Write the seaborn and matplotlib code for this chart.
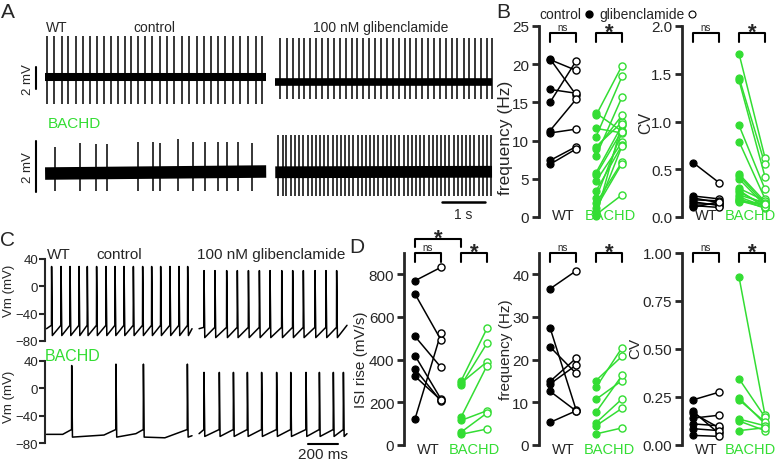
import pandas as pd
import matplotlib
matplotlib.use("agg")
import matplotlib.pyplot as plt
import seaborn as sns
from matplotlib.lines import Line2D

W, H = 778, 464
GREEN = "#33dd33"

# ---------------- panel A: extracellular traces (time in s, amplitude in mV) ----------------
a_wt_ctrl_spikes = [0.05, 0.21, 0.39, 0.54, 0.71, 0.88, 1.03, 1.20, 1.36, 1.52, 1.68, 1.84, 2.00, 2.16,
                    2.32, 2.48, 2.65, 2.83, 2.98, 3.18, 3.34, 3.51, 3.68, 3.84, 4.01, 4.17, 4.34, 4.52,
                    4.70, 4.88, 5.03]
a_wt_glib_spikes = [5.45, 5.60, 5.74, 5.87, 6.00, 6.14, 6.28, 6.42, 6.55, 6.69, 6.83, 6.96, 7.10, 7.23,
                    7.37, 7.51, 7.64, 7.78, 7.92, 8.05, 8.19, 8.33, 8.46, 8.60, 8.73, 8.87, 9.01, 9.14,
                    9.28, 9.42, 9.55, 9.69, 9.82, 9.96, 10.10, 10.23, 10.35]
a_bachd_ctrl_spikes = [0.23, 0.81, 1.19, 1.44, 2.14, 2.49, 2.65, 3.07, 3.42, 3.70, 4.00, 4.21, 4.47, 4.79]
a_bachd_ctrl_peaks = [1.03, 1.18, 1.13, 1.13, 1.23, 1.20, 1.16, 1.33, 1.23, 1.20, 1.23, 1.23, 1.20, 1.18]
a_bachd_glib_spikes = [5.40, 5.50, 5.59, 5.69, 5.79, 5.88, 5.98, 6.08, 6.17, 6.27, 6.37, 6.46, 6.56, 6.66,
                       6.75, 6.85, 6.95, 7.04, 7.14, 7.24, 7.33, 7.43, 7.53, 7.62, 7.72, 7.82, 7.91, 8.01,
                       8.11, 8.20, 8.30, 8.40, 8.49, 8.59, 8.69, 8.78, 8.88, 8.98, 9.07, 9.17, 9.27, 9.36,
                       9.46, 9.56, 9.65, 9.75, 9.85, 9.94, 10.04, 10.14, 10.23, 10.33]

# ---------------- panel C: whole-cell traces (time in ms, Vm in mV) ----------------
c_wt_ctrl_spikes = [44, 107, 167, 227, 282, 344, 407, 467, 527, 589, 651, 711, 771, 833, 893, 951]
c_wt_glib_spikes = [1060, 1133, 1211, 1282, 1356, 1429, 1500, 1578, 1651, 1722, 1800, 1873, 1944]
c_bachd_ctrl_spikes = [178, 473, 656, 949]
c_bachd_ctrl_peaks = [33, 35, 35, 35]
c_bachd_ctrl_base = [-67, -68, -66, -72]
c_bachd_ctrl_ramp = [60, 80, 50, 150]
c_bachd_glib_spikes = [1060, 1162, 1256, 1349, 1444, 1544, 1638, 1740, 1829, 1922, 1989]

# ---------------- panel B: paired values ----------------
b_freq_wt_ctrl = [20.7, 20.6, 16.7, 15.0, 11.3, 11.0, 7.4, 6.9]
b_freq_wt_glib = [16.0, 19.2, 16.2, 20.4, 15.4, 11.5, 9.2, 8.9]
b_freq_bd_ctrl = [13.6, 13.3, 11.6, 10.5, 9.2, 8.9, 8.0, 5.8, 5.5, 4.7, 3.4, 2.5, 1.8, 1.2, 0.7, 0.3, 0.1]
b_freq_bd_glib = [11.2, 19.8, 11.0, 18.4, 12.4, 13.3, 15.7, 12.0, 11.3, 9.8, 9.4, 11.1, 7.2, 7.0, 9.3, 2.9, 12.2]
b_cv_wt_ctrl = [0.57, 0.22, 0.20, 0.18, 0.16, 0.14, 0.12, 0.10]
b_cv_wt_glib = [0.36, 0.19, 0.15, 0.17, 0.12, 0.14, 0.10, 0.16]
b_cv_bd_ctrl = [1.71, 1.46, 1.43, 0.96, 0.79, 0.45, 0.43, 0.40, 0.30, 0.28, 0.26, 0.23, 0.21, 0.19, 0.18, 0.17, 0.16]
b_cv_bd_glib = [0.62, 0.55, 0.42, 0.29, 0.19, 0.16, 0.14, 0.12, 0.17, 0.10, 0.13, 0.15, 0.11, 0.09, 0.12, 0.10, 0.14]

# ---------------- panel D: paired values ----------------
d_isi_wt_ctrl = [770, 708, 509, 419, 356, 322, 122]
d_isi_wt_glib = [833, 492, 364, 215, 205, 210, 525]
d_isi_bd_ctrl = [300, 290, 280, 130, 115, 60, 50]
d_isi_bd_glib = [547, 390, 477, 372, 161, 150, 75]
d_freq_wt_ctrl = [36.6, 27.5, 23.0, 14.9, 14.3, 12.6, 5.3]
d_freq_wt_glib = [40.8, 8.3, 16.8, 20.3, 18.7, 8.0, 8.0]
d_freq_bd_ctrl = [15.1, 13.5, 10.7, 7.7, 5.2, 4.5, 2.6]
d_freq_bd_glib = [20.8, 22.8, 15.1, 16.3, 10.8, 8.6, 4.0]
d_cv_wt_ctrl = [0.235, 0.175, 0.165, 0.14, 0.11, 0.085, 0.05]
d_cv_wt_glib = [0.275, 0.06, 0.09, 0.155, 0.10, 0.075, 0.045]
d_cv_bd_ctrl = [0.875, 0.345, 0.245, 0.235, 0.135, 0.125, 0.075]
d_cv_bd_glib = [0.155, 0.145, 0.11, 0.12, 0.10, 0.075, 0.09]

sns.set_style("ticks")
plt.rcParams["font.family"] = ["Liberation Sans", "DejaVu Sans"]
plt.rcParams["axes.linewidth"] = 1.5

fig = plt.figure(figsize=(W / 100, H / 100), dpi=100)


def px_axes(x0, y0, x1, y1):
    return fig.add_axes([x0 / W, 1 - y1 / H, (x1 - x0) / W, (y1 - y0) / H])


def ftext(x, y, s, **kw):
    fig.text(x / W, 1 - y / H, s, ha="center", va="center", **kw)


# ================= panel A =================
def a_trace(ax, t0, t1, b0, b1, spikes, tops, bottom, lw_base):
    ax.plot([t0, t1], [b0, b1], color="k", lw=lw_base, solid_capstyle="butt")
    ax.vlines(spikes, bottom, tops, color="k", lw=1.1)


ax_a1 = px_axes(20, 30, 497, 112)
ax_a1.set_xlim(-0.581, 10.465)
ax_a1.set_ylim(-3.09, 4.364)
ax_a1.axis("off")
a_trace(ax_a1, 0.0, 5.12, 0.0, 0.0, a_wt_ctrl_spikes, 3.73, -2.45, 5.8)
a_trace(ax_a1, 5.33, 10.35, -0.45, -0.45, a_wt_glib_spikes, 3.55, -2.0, 5.5)
ax_a1.plot([-0.21, -0.21], [-1.09, 0.91], color="k", lw=1.5)
ax_a1.text(-0.40, -0.18, "2 mV", rotation=90, ha="center", va="center", fontsize=9.5)

ax_a2 = px_axes(20, 125, 497, 220)
ax_a2.set_xlim(-0.581, 10.465)
ax_a2.set_ylim(-1.80, 1.92)
ax_a2.axis("off")
a_trace(ax_a2, 0.0, 5.12, -0.02, 0.06, a_bachd_ctrl_spikes, a_bachd_ctrl_peaks, -0.7, 9.0)
a_trace(ax_a2, 5.33, 10.35, 0.03, 0.05, a_bachd_glib_spikes, 1.5, -0.9, 8.5)
ax_a2.plot([-0.21, -0.21], [-0.75, 1.25], color="k", lw=1.5)
ax_a2.text(-0.40, 0.27, "2 mV", rotation=90, ha="center", va="center", fontsize=9.5)
ax_a2.plot([9.19, 10.19], [-1.14, -1.14], color="k", lw=1.8, clip_on=False)
ax_a2.text(9.69, -1.62, "1 s", ha="center", va="center", fontsize=10, clip_on=False)

ftext(8, 13, "A", fontsize=15)
ftext(57, 28, "WT", fontsize=10)
ftext(154, 28, "control", fontsize=10)
ftext(381, 28, "100 nM glibenclamide", fontsize=10)
ftext(74, 124, "BACHD", fontsize=11, color=GREEN)


# ================= panel C =================
def c_trace(t0, t1, v0, v1, spikes, peaks, thr, ahp, base=None, ramp=None):
    xs, ys = [t0], [v0]
    for i, t in enumerate(spikes):
        p = peaks[i] if isinstance(peaks, list) else peaks
        if base is not None:
            xs.append(t - ramp[i])
            ys.append(base[i])
        xs += [t - 1, t, t + 5]
        ys += [thr, p, ahp]
    xs.append(t1)
    ys.append(v1)
    return xs, ys


def c_axes(y0, y1):
    ax = px_axes(45, y0, 350, y1)
    ax.set_xlim(0, 2033)
    ax.set_ylim(-80, 40)
    ax.set_yticks([40, 0, -40, -80])
    for s in ("top", "right", "bottom"):
        ax.spines[s].set_visible(False)
    ax.spines["left"].set_linewidth(1.5)
    ax.tick_params(axis="y", length=4, width=1.5, labelsize=9.5, pad=1)
    ax.set_xticks([])
    ax.set_ylabel("Vm (mV)", fontsize=9.5)
    return ax


ax_c1 = c_axes(260, 342)
for xs, ys in (c_trace(10, 980, -62, -62, c_wt_ctrl_spikes, 29, -57, -72),
               c_trace(1027, 2013, -62, -57, c_wt_glib_spikes, 23, -60, -75)):
    sns.lineplot(x=xs, y=ys, sort=False, estimator=None, color="k", lw=1.1, ax=ax_c1)
ax_c1.yaxis.set_label_coords(-0.098, 0.62)

ax_c2 = c_axes(361.7, 444.3)
for xs, ys in (c_trace(10, 980, -67, -69, c_bachd_ctrl_spikes, c_bachd_ctrl_peaks, -60, -71,
                       c_bachd_ctrl_base, c_bachd_ctrl_ramp),
               c_trace(1027, 2013, -66, -66, c_bachd_glib_spikes, 23, -60, -70)):
    sns.lineplot(x=xs, y=ys, sort=False, estimator=None, color="k", lw=1.1, ax=ax_c2)
ax_c2.yaxis.set_label_coords(-0.098, 0.58)
ax_c2.plot([1753, 1953], [-81, -81], color="k", lw=1.5, clip_on=False)
ax_c2.text(1853, -95, "200 ms", ha="center", va="center", fontsize=11, clip_on=False)

ftext(8, 241, "C", fontsize=15)
ftext(59, 255, "WT", fontsize=11)
ftext(119, 255, "control", fontsize=11)
ftext(271, 255, "100 nM glibenclamide", fontsize=11)
ftext(73, 357, "BACHD", fontsize=11.5, color=GREEN)


# ================= panels B and D =================
GX = {"WT": (0.0, 1.0), "BACHD": (1.77, 2.77)}


def bracket(ax, x0, x1, ytop, ybot, label):
    tr = ax.get_xaxis_transform()
    ax.plot([x0, x0, x1, x1], [ybot, ytop, ytop, ybot], color="k", lw=1.5,
            transform=tr, clip_on=False)
    if label == "*":
        ax.annotate("*", xy=((x0 + x1) / 2, ytop), xycoords=tr, xytext=(0, -3.5),
                    textcoords="offset points", ha="center", va="baseline",
                    fontsize=16, fontweight="bold")
    else:
        ax.annotate("ns", xy=((x0 + x1) / 2, ytop), xycoords=tr, xytext=(0, 1),
                    textcoords="offset points", ha="center", va="bottom", fontsize=7)


def paired(x0, y0, x1, y1, wt_c, wt_g, bd_c, bd_g, ylim, yticks, fmt, ylabel, lab_xy, lab_size,
           br_top, br_bot, lab_y, bd_x=2.27):
    ax = px_axes(x0, y0, x1, y1)
    rows = []
    for grp, c, g in (("WT", wt_c, wt_g), ("BACHD", bd_c, bd_g)):
        xa, xb = GX[grp]
        for i, (a, b) in enumerate(zip(c, g)):
            rows.append({"group": grp, "pair": f"{grp}{i}", "cond": "control", "x": xa, "v": a})
            rows.append({"group": grp, "pair": f"{grp}{i}", "cond": "glib", "x": xb, "v": b})
    df = pd.DataFrame(rows)
    for grp, col in (("WT", "black"), ("BACHD", GREEN)):
        d = df[df["group"] == grp]
        sns.lineplot(data=d, x="x", y="v", units="pair", estimator=None, color=col,
                     lw=1.1, ax=ax, legend=False)
        sns.scatterplot(data=d[d["cond"] == "control"], x="x", y="v", color=col, edgecolor=col,
                        linewidth=0.8, s=26, ax=ax, zorder=3, clip_on=False, legend=False)
        sns.scatterplot(data=d[d["cond"] == "glib"], x="x", y="v", color="white", edgecolor=col,
                        linewidth=1.0, s=26, ax=ax, zorder=3, clip_on=False, legend=False)
    span = 26.0
    ax.set_xlim(-11 / span, (x1 - x0 - 11) / span)
    ax.set_ylim(*ylim)
    ax.set_yticks(yticks)
    ax.set_yticklabels([fmt.format(t) for t in yticks])
    for s in ("top", "right", "bottom"):
        ax.spines[s].set_visible(False)
    ax.spines["left"].set_linewidth(2.0)
    ax.tick_params(axis="y", length=5, width=2.0, labelsize=11, pad=2)
    ax.set_xticks([])
    ax.set_xlabel("")
    ax.set_ylabel(ylabel, fontsize=lab_size)
    ax.yaxis.set_label_coords(*lab_xy)
    tr = ax.get_xaxis_transform()
    ax.text(0.5, lab_y, "WT", transform=tr, ha="center", va="center", fontsize=10.5)
    ax.text(bd_x, lab_y, "BACHD", transform=tr, ha="center", va="center", fontsize=10.5, color=GREEN)
    bracket(ax, 0.0, 1.0, br_top, br_bot, "ns")
    bracket(ax, 1.77, 2.77, br_top, br_bot, "*")
    return ax


paired(539, 27, 640, 218, b_freq_wt_ctrl, b_freq_wt_glib, b_freq_bd_ctrl, b_freq_bd_glib,
       (0, 25), [0, 5, 10, 15, 20, 25], "{:g}", "frequency (Hz)", (-0.26, 0.42), 12.5,
       0.962, 0.918, 0.01, 2.32)
paired(682, 27, 778, 218, b_cv_wt_ctrl, b_cv_wt_glib, b_cv_bd_ctrl, b_cv_bd_glib,
       (0, 2.0), [0, 0.5, 1.0, 1.5, 2.0], "{:.1f}", "CV", (-0.30, 0.50), 11.5,
       0.962, 0.918, 0.01, 2.2)
ax_isi = paired(404, 254, 500, 446, d_isi_wt_ctrl, d_isi_wt_glib, d_isi_bd_ctrl, d_isi_bd_glib,
                (0, 900), [0, 200, 400, 600, 800], "{:g}", "ISI rise (mV/s)", (-0.375, 0.448), 11,
                1.0, 0.953, -0.02)
paired(539, 254, 640, 446, d_freq_wt_ctrl, d_freq_wt_glib, d_freq_bd_ctrl, d_freq_bd_glib,
       (0, 45), [0, 10, 20, 30, 40], "{:g}", "frequency (Hz)", (-0.26, 0.50), 11,
       1.0, 0.953, -0.02)
paired(682, 254, 778, 446, d_cv_wt_ctrl, d_cv_wt_glib, d_cv_bd_ctrl, d_cv_bd_glib,
       (0, 1.0), [0, 0.25, 0.5, 0.75, 1.0], "{:.2f}", "CV", (-0.41, 0.51), 11,
       1.0, 0.953, -0.02, 2.2)
bracket(ax_isi, 0.0, 1.77, 1.073, 1.031, "*")

ftext(503, 13, "B", fontsize=15)
ftext(357, 248, "D", fontsize=15)

# legend for panel B
ftext(560, 15, "control", fontsize=10)
ftext(642, 15, "glibenclamide", fontsize=10)
fig.add_artist(Line2D([589 / W], [1 - 15 / H], transform=fig.transFigure, marker="o",
                      markersize=5, color="k", mfc="k"))
fig.add_artist(Line2D([692 / W], [1 - 15 / H], transform=fig.transFigure, marker="o",
                      markersize=5, color="k", mfc="white", mew=0.8))

fig.savefig("out.png", dpi=100)
